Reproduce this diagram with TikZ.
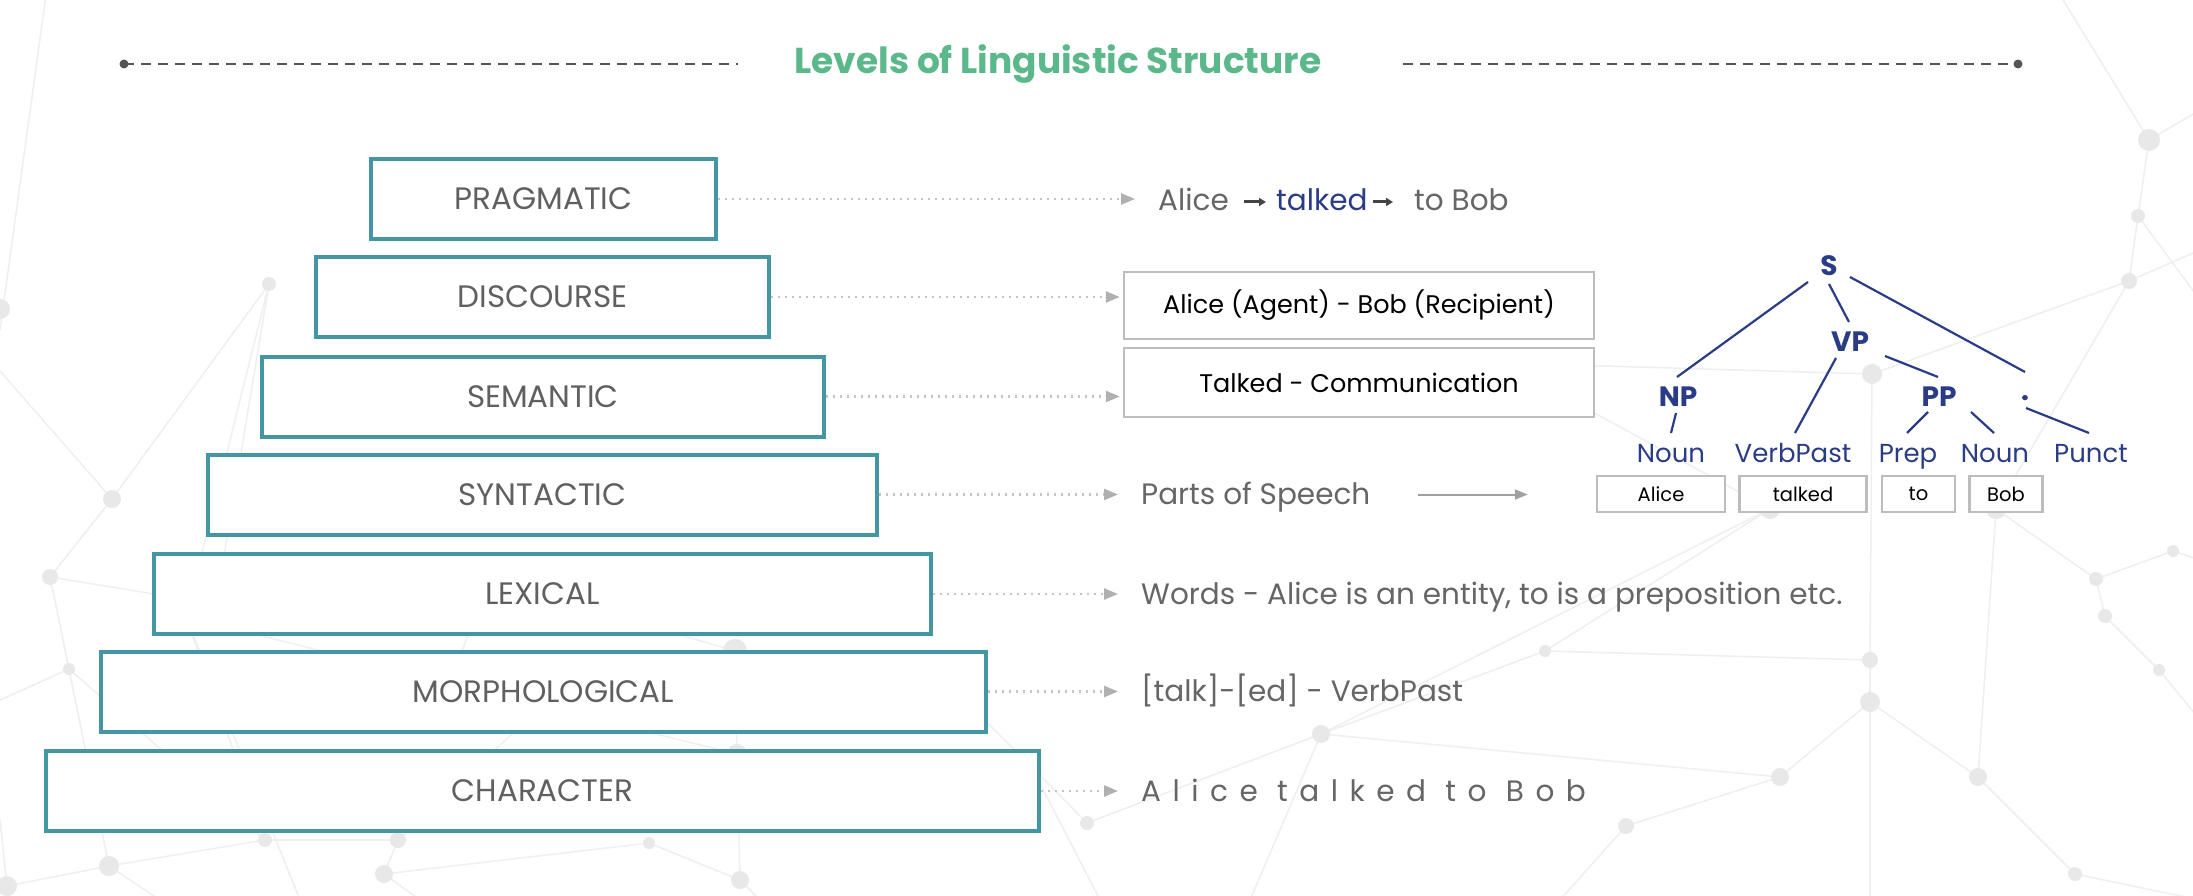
\documentclass[tikz,border=0pt]{standalone}
\usepackage{fontspec}
\setmainfont{Poppins}
\usetikzlibrary{arrows.meta}
\definecolor{boxteal}{HTML}{4596A5}
\definecolor{lblgray}{HTML}{606060}
\definecolor{txtgray}{HTML}{666666}
\definecolor{ttlgreen}{HTML}{5BB88A}
\definecolor{treeblue}{HTML}{2B3C86}
\definecolor{bgline}{HTML}{EFEFEF}
\definecolor{bgdot}{HTML}{E8E8E8}
\definecolor{dotgray}{HTML}{C4C4C4}
\definecolor{tipgray}{HTML}{B0B0B0}
\definecolor{boxgray}{HTML}{BDBDBD}
\definecolor{dashgray}{HTML}{555555}
\definecolor{smallarrgray}{HTML}{444444}
\definecolor{posgray}{HTML}{A0A0A0}
\tikzset{
  levelbox/.style={draw=boxteal, line width=4pt, fill=white, minimum height=80pt, text=lblgray, font=\fontsize{31}{36}\selectfont, inner sep=0pt},
  conn/.style={draw=dotgray, line width=2.5pt, dash pattern=on 2pt off 5pt, -{Triangle[length=14pt,width=11pt,color=tipgray]}},
  ttl/.style={text=ttlgreen, font=\fontsize{36}{42}\selectfont\bfseries, inner sep=0pt},
  dashline/.style={draw=dashgray, line width=2pt, dash pattern=on 10pt off 7pt},
  endpt/.style={circle, fill=dashgray, inner sep=0pt, minimum size=9pt},
  rtext/.style={anchor=base west, inner sep=0pt, text=txtgray, font=\fontsize{29.5}{34}\selectfont},
  ebox/.style={draw=boxgray, line width=2.5pt, fill=white, text=black, font=\fontsize{25.5}{30}\selectfont, inner sep=0pt, minimum width=470pt},
  tlab/.style={anchor=base, text=treeblue, font=\fontsize{28}{32}\selectfont\bfseries, inner sep=0pt},
  tleaf/.style={anchor=base, text=treeblue, font=\fontsize{26}{30}\selectfont, inner sep=0pt},
  tedge/.style={draw=treeblue, line width=2.2pt},
  wbox/.style={draw=boxgray, line width=2.5pt, fill=white, minimum height=36pt, text=black, font=\fontsize{19.5}{22}\selectfont, inner sep=0pt},
  smallarr/.style={draw=smallarrgray, line width=3pt, -{Triangle[length=7pt,width=8pt]}},
  posarr/.style={draw=posgray, line width=2pt, -{Triangle[length=13pt,width=10pt]}},
  bgl/.style={draw=bgline, line width=1.5pt},
}
\begin{document}
\begin{tikzpicture}[x=1pt, y=-1pt]
\useasboundingbox (0,0) rectangle (2193,896);
\fill[white] (0,0) rectangle (2193,896);

% ---------- faint background network ----------
\begin{scope}
\clip (0,0) rectangle (2193,896);
\foreach \n/\x/\y in {L1/0/309, L2/269/284, L3/112/499, L4/50/577, L5/216/604, L6/186/617, L7/488/578, L8/69/669, L9/735/651, L10/950/686, L11/542/706, L12/452/680, L13/737/754, L14/1031/766, L15/265/840, L16/398/840, L17/109/866, L18/384/874, L19/649/843, L20/740/880, L21/1087/823, L22/7/886,
  R1/2149/140, R2/2138/216, R3/2129/281, R4/1503/363, R5/1872/374, R6/1770/509, R7/1996/509, R8/2173/551, R9/2096/579, R10/2105/616, R11/2159/670, R12/1545/651, R13/1870/660, R14/1870/702, R15/1321/734, R16/1780/777, R17/1978/777, R18/1626/826, R19/2075/874,
  E1/46/-5, E2/0/330, E3/0/371, E4/0/820, E5/160/900, E6/420/900, E7/760/900, E8/1100/900, E9/1870/900, E10/1560/900, E11/2200/110, E12/2060/-5, E13/2200/300, E14/2200/560, E15/2200/720, E16/2200/900, E17/2200/250, E18/1250/900, E19/0/700, E20/300/900}
  {\coordinate (\n) at (\x,\y);}
\foreach \a/\b in {E1/E2, L2/L3, L3/L4, L3/E3, L4/L5, L4/L8, L8/L17, L8/L15, L6/L11, L2/L5, L7/L9, L9/L10, L9/L13, L13/L14, L10/L14, L12/L11, L11/L13, L12/L7, L15/L16, L16/L18, L18/L19, L17/L22, L15/L17, L13/L20, L20/L19, L14/L21, L21/R15, L6/L15, L11/L16, L22/E4, L17/E5, L18/E6, L20/E7, L14/E8, L8/E19, L6/E20, L2/L6,
  R1/R2, R2/R3, R1/E11, R1/E12, R2/E13, R3/R5, R3/E17, R4/R5, R4/R6, R6/R15, R7/R9, R7/R17, R8/R9, R9/R10, R10/R11, R12/R13, R12/R15, R13/R14, R14/R16, R14/R17, R16/R18, R17/R19, R5/R13, R14/E9, R18/E10, R8/E14, R11/E15, R19/E16, R15/E18, R6/R12, R7/R3, R16/R15}
  {\draw[bgl] (\a) -- (\b);}
\foreach \n/\r in {L1/10, L2/7, L3/9, L4/8, L5/9, L6/10, L7/6, L8/6, L9/12, L10/15, L11/7, L12/6, L13/10, L14/7, L15/7, L16/8, L17/10, L18/9, L19/6, L20/9, L21/7, L22/10, R1/11, R2/7, R3/8, R4/9, R5/10, R6/10, R7/10, R8/6, R9/7, R10/7, R11/6, R12/6, R13/8, R14/10, R15/9, R16/9, R17/9, R18/8, R19/7}
  {\fill[bgdot] (\n) circle (\r pt);}
\end{scope}

% ---------- title ----------
\node[ttl] (title) at (1058,64) {Levels of Linguistic Structure};
\node[endpt] (ldot) at (124,64) {};
\coordinate (lend) at (738,64);
\node[endpt] (rdot) at (2018,64) {};
\coordinate (rstart) at (1403,64);
\draw[dashline] (ldot.center) -- (lend);
\draw[dashline] (rstart) -- (rdot.center);

% ---------- level boxes ----------
\node[levelbox, minimum width=345pt] (prag) at (543.5,199) {PRAGMATIC};
\node[levelbox, minimum width=453pt] (disc) at (542.5,297) {DISCOURSE};
\node[levelbox, minimum width=562pt] (sem) at (543,396.5) {SEMANTIC};
\node[levelbox, minimum width=669pt] (syn) at (542.5,494.5) {SYNTACTIC};
\node[levelbox, minimum width=777pt] (lex) at (542.5,594) {LEXICAL};
\node[levelbox, minimum width=885pt] (mor) at (543.5,691.5) {MORPHOLOGICAL};
\node[levelbox, minimum width=993pt] (chr) at (542.5,791) {CHARACTER};

% ---------- right-hand examples ----------
\node[rtext] (pa) at (1158,211) {Alice};
\node[rtext, text=treeblue] (pt) at (1276,211) {talked};
\node[rtext] (pb) at (1414,211) {to Bob};
\draw[smallarr, shorten <=15pt, shorten >=10pt] ([yshift=9pt]pa.base east) -- ([yshift=9pt]pt.base west);
\draw[smallarr, shorten <=5pt, shorten >=21pt] ([yshift=9pt]pt.base east) -- ([yshift=9pt]pb.base west);

\node[ebox, minimum height=67pt] (dbox) at (1359,305.5) {Alice (Agent) - Bob (Recipient)};
\node[ebox, minimum height=69pt] (sbox) at (1359,382.5) {Talked - Communication};

\node[rtext] (pos) at (1141,504) {Parts of Speech};
\node[rtext] (wrd) at (1141,604) {Words - Alice is an entity, to is a preposition etc.};
\node[rtext] (mrp) at (1141,701) {[talk]-[ed] - VerbPast};
\node[rtext, font=\fontsize{29.5}{34}\selectfont\addfontfeature{LetterSpace=39}] (chx) at (1141,801) {Alice talked to Bob};

% ---------- dotted connectors ----------
\draw[conn, shorten >=23pt] (prag.east) -- (prag.east -| pa.west);
\draw[conn, shorten >=3pt] (disc.east) -- (disc.east -| dbox.west);
\draw[conn, shorten >=3pt] (sem.east) -- (sem.east -| sbox.west);
\draw[conn, shorten >=23pt] (syn.east) -- (syn.east -| pos.west);
\draw[conn, shorten >=23pt] (lex.east) -- (lex.east -| wrd.west);
\draw[conn, shorten >=23pt] (mor.east) -- (mor.east -| mrp.west);
\draw[conn, shorten >=23pt] (chr.east) -- (chr.east -| chx.west);

% ---------- parse tree ----------
\node[tlab] (S) at (1829,276) {S};
\node[tlab] (VP) at (1850,351) {VP};
\node[tlab] (NP) at (1678,406) {NP};
\node[tlab] (PP) at (1939,406) {PP};
\node[tlab] (dot) at (2025,400) {.};
\node[tleaf] (n1) at (1671,462) {Noun};
\node[tleaf] (vbd) at (1793,462) {VerbPast};
\node[tleaf] (prp) at (1908,462) {Prep};
\node[tleaf] (n2) at (1995,462) {Noun};
\node[tleaf] (pun) at (2091,462) {Punct};

\draw[tedge] ([shift={(-21,6)}]S.base) -- ([shift={(-1,-29)}]NP.base);
\draw[tedge] ([shift={(0,8)}]S.base) -- ([shift={(-1,-29)}]VP.base);
\draw[tedge] ([shift={(21,1)}]S.base) -- ([shift={(0,-28)}]dot.base);
\draw[tedge] ([shift={(-14,7)}]VP.base) -- ([shift={(2,-29)}]vbd.base);
\draw[tedge] ([shift={(35,5)}]VP.base) -- ([shift={(-1,-29)}]PP.base);
\draw[tedge] ([shift={(-2,7)}]NP.base) -- ([shift={(0,-29)}]n1.base);
\draw[tedge] ([shift={(-11,6)}]PP.base) -- ([shift={(-1,-29)}]prp.base);
\draw[tedge] ([shift={(32,6)}]PP.base) -- ([shift={(-1,-29)}]n2.base);
\draw[tedge] ([shift={(1,8)}]dot.base) -- ([shift={(-2,-29)}]pun.base);

\node[wbox, minimum width=128pt] (wa) at (1661,494) {Alice};
\node[wbox, minimum width=127pt] (wt) at (1803,494) {talked};
\node[wbox, minimum width=73pt] (wto) at (1918.5,494) {to};
\node[wbox, minimum width=73pt] (wb) at (2006,494) {Bob};

\draw[posarr, shorten <=47pt, shorten >=68pt] (pos.east |- syn.east) -- (wa.west |- syn.east);
\end{tikzpicture}
\end{document}
